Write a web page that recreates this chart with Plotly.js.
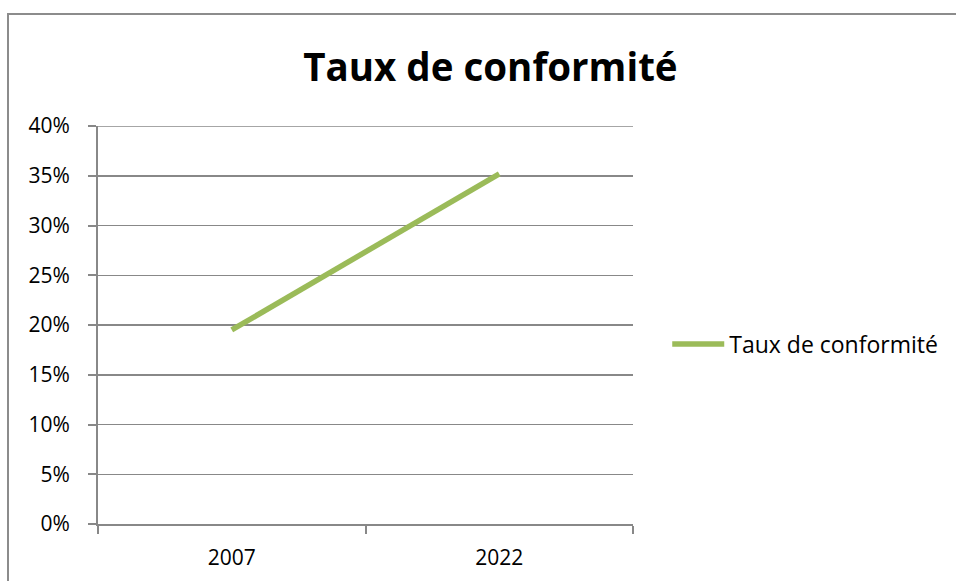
<!DOCTYPE html>
<html>
<head>
<meta charset="utf-8">
<script src="https://cdn.plot.ly/plotly-3.0.1.min.js"></script>
<style>
  html, body { margin: 0; padding: 0; background: #fff; overflow: hidden; }
  #wrap { position: relative; width: 956px; height: 581px; }
  #chart { position: absolute; left: 0; top: 0; width: 956px; height: 581px; }
  #frame { position: absolute; left: 7px; top: 13px; width: 1000px; height: 700px;
           border: 2px solid #8c8c8c; pointer-events: none; box-sizing: border-box; }
</style>
</head>
<body>
<div id="wrap">
  <div id="chart"></div>
  <div id="frame"></div>
</div>
<script>
const categories = ["2007", "2022"];
const seriesName = "Taux de conformité";
const values = [0.195, 0.352];
const chartTitle = "Taux de conformité";
const yMax = 0.4;

const font = "Open Sans, Noto Sans, sans-serif";

const trace = {
  x: categories,
  y: values,
  type: "scatter",
  mode: "lines",
  name: seriesName,
  line: { color: "#9BBB59", width: 5.5 },
  showlegend: true
};

const layout = {
  width: 956,
  height: 581,
  margin: { l: 98, r: 323, t: 126, b: 57 },
  paper_bgcolor: "#ffffff",
  plot_bgcolor: "#ffffff",
  title: {
    text: "<b>" + chartTitle + "</b>",
    font: { family: font, size: 38.5, color: "#000" },
    x: 0.513, xref: "container", xanchor: "center",
    y: 0.883, yref: "container", yanchor: "middle"
  },
  xaxis: {
    type: "category",
    range: [-0.5, 1.5],
    tickson: "boundaries",
    ticks: "outside",
    ticklen: 8,
    tickcolor: "#888888",
    tickwidth: 2,
    showline: true,
    linecolor: "#888888",
    linewidth: 2,
    showgrid: false,
    zeroline: false,
    tickfont: { family: font, size: 21, color: "#000" },
    ticklabelstandoff: 14
  },
  yaxis: {
    range: [0, yMax],
    dtick: 0.05,
    tick0: 0,
    tickformat: ".0%",
    ticks: "outside",
    ticklen: 8,
    tickcolor: "#888888",
    tickwidth: 2,
    showline: true,
    linecolor: "#888888",
    linewidth: 2,
    showgrid: true,
    gridcolor: "#888888",
    gridwidth: 1.5,
    zeroline: false,
    tickfont: { family: font, size: 21, color: "#000" },
    ticklabelstandoff: 14
  },
  shapes: [{
    type: "line", xref: "paper", yref: "y",
    x0: 0, x1: 1, y0: yMax, y1: yMax,
    line: { color: "#888888", width: 1.5 },
    layer: "below"
  }],
  legend: {
    x: 1.064, xanchor: "left",
    y: 0.452, yanchor: "middle",
    font: { family: font, size: 23, color: "#000" },
    bgcolor: "rgba(0,0,0,0)",
    itemwidth: 52
  }
};

Plotly.newPlot("chart", [trace], layout, { displayModeBar: false, staticPlot: true });
</script>
</body>
</html>
